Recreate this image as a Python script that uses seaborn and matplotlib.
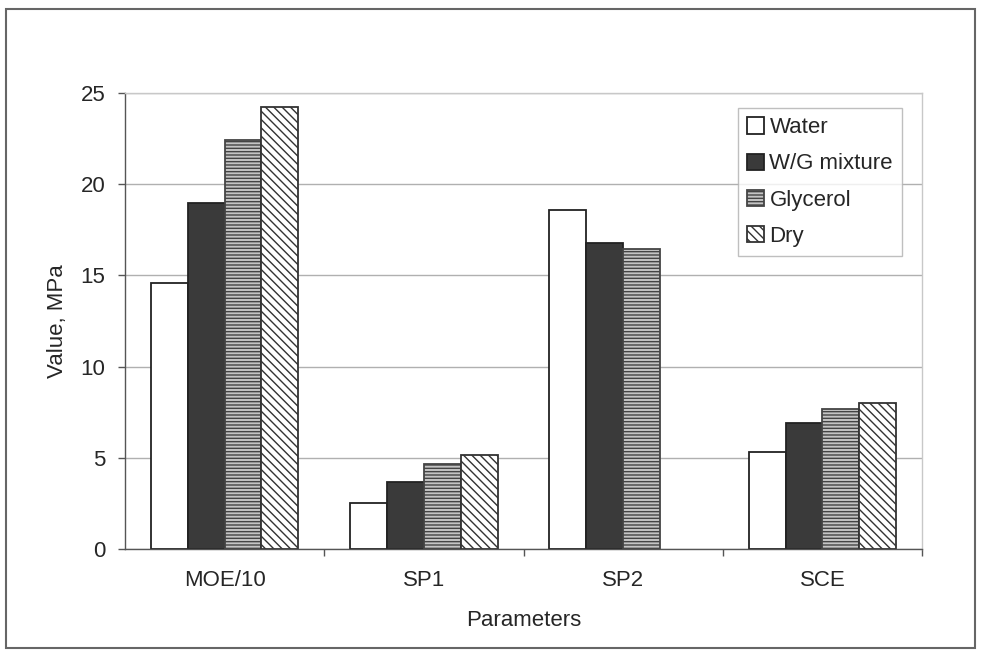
import matplotlib
matplotlib.use("Agg")
import matplotlib.pyplot as plt
import matplotlib.patches as mpatches
import numpy as np
import pandas as pd
import seaborn as sns

categories = ["MOE/10", "SP1", "SP2", "SCE"]
series = ["Water", "W/G mixture", "Glycerol", "Dry"]
water = [14.6, 2.5, 18.6, 5.3]
wg_mixture = [18.95, 3.7, 16.8, 6.9]
glycerol = [22.4, 4.65, 16.45, 7.7]
dry = [24.25, 5.15, np.nan, 8.0]
y_ticks = [0, 5, 10, 15, 20, 25]

values = {"Water": water, "W/G mixture": wg_mixture, "Glycerol": glycerol, "Dry": dry}
rows = []
for s in series:
    for c, v in zip(categories, values[s]):
        rows.append({"Parameter": c, "Series": s, "Value": v})
df = pd.DataFrame(rows)

sns.set_theme(style="white")
plt.rcParams["font.family"] = ["Liberation Sans", "DejaVu Sans"]
plt.rcParams["hatch.linewidth"] = 1.0

FS = 16

fig = plt.figure(figsize=(9.83, 6.56), dpi=100)
ax = fig.add_axes([125/983, 1-549/656, (922-125)/983, (549-93)/656])

sns.barplot(data=df, x="Parameter", y="Value", hue="Series", order=categories,
            hue_order=series, width=0.74, ax=ax, legend=False, errorbar=None,
            saturation=1)

styles = {
    "Water": dict(facecolor="white", edgecolor="#222222", hatch=None),
    "W/G mixture": dict(facecolor="#3a3a3a", edgecolor="#222222", hatch=None),
    "Glycerol": dict(facecolor="#c4c4c4", edgecolor="#444444", hatch="-----"),
    "Dry": dict(facecolor="white", edgecolor="#333333", hatch="\\\\\\\\"),
}
for s, cont in zip(series, ax.containers):
    st = styles[s]
    for p in cont.patches:
        p.set_facecolor(st["facecolor"])
        p.set_edgecolor(st["edgecolor"])
        p.set_linewidth(1.3)
        if st["hatch"]:
            p.set_hatch(st["hatch"])

ax.set_ylim(0, 25)
ax.set_yticks(y_ticks)
ax.set_xlim(-0.5, 3.5)
ax.yaxis.grid(True, color="#b0b0b0", linewidth=1.0)
ax.set_axisbelow(True)
ax.set_xticks([0, 1, 2, 3])
ax.set_xticklabels(categories, fontsize=FS)
ax.tick_params(axis="y", labelsize=FS, length=5, width=1, color="#555555", direction="out", left=True, pad=9)
ax.tick_params(axis="x", length=0, pad=15)
# category boundary ticks
ax.set_xticks([0.5, 1.5, 2.5, 3.5], minor=True)
ax.tick_params(axis="x", which="minor", length=5, width=1, color="#555555", direction="out", bottom=True)

ax.set_xlabel("Parameters", fontsize=FS, labelpad=14)
ax.set_ylabel("Value, MPa", fontsize=FS, labelpad=9)

for side in ["left", "bottom"]:
    ax.spines[side].set_color("#555555")
    ax.spines[side].set_linewidth(1.0)
for side in ["top", "right"]:
    ax.spines[side].set_color("#c8c8c8")
    ax.spines[side].set_linewidth(1.0)

handles = []
for s in series:
    st = styles[s]
    handles.append(mpatches.Patch(facecolor=st["facecolor"], edgecolor=st["edgecolor"],
                                  hatch=st["hatch"], linewidth=1.3, label=s))
leg = ax.legend(handles=handles, loc="upper left", bbox_to_anchor=(0.769, 0.967),
                fontsize=16, frameon=True, fancybox=False, handlelength=0.75,
                handleheight=0.75, handletextpad=0.25, borderpad=0.42, labelspacing=0.68,
                borderaxespad=0)
leg.get_frame().set_edgecolor("#b0b0b0")
leg.get_frame().set_linewidth(1.0)

# outer chart border
fig.patches.append(mpatches.Rectangle((6/983, 1-648/656), (975-6)/983, (648-9)/656,
                                      transform=fig.transFigure, fill=False,
                                      edgecolor="#666666", linewidth=1.5))

fig.savefig("out.png", dpi=100)
